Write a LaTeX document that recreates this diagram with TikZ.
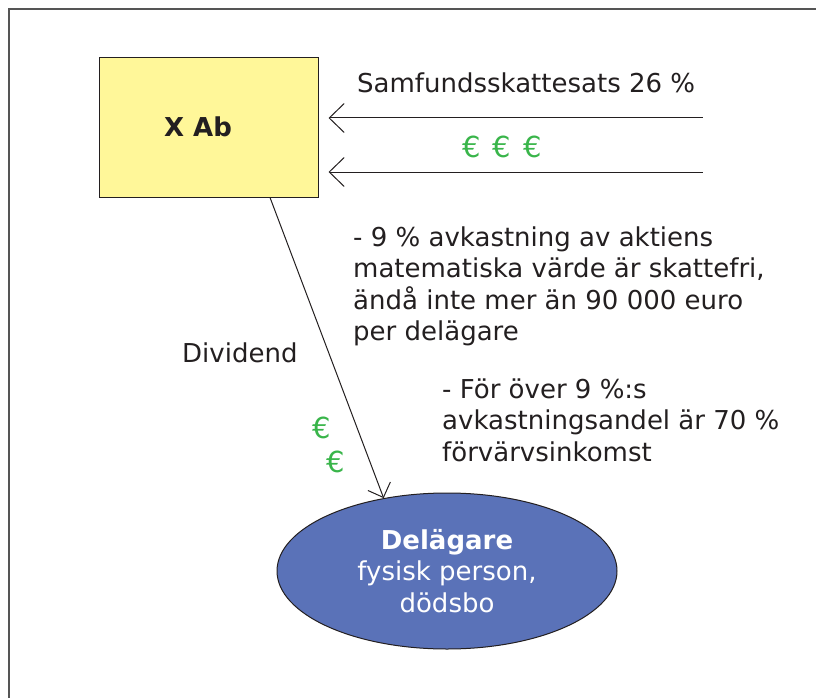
\documentclass[tikz,border=0pt]{standalone}
\usepackage{fontspec}
\setmainfont{DejaVu Sans}
\usetikzlibrary{arrows.meta,shapes.geometric,calc}
\definecolor{boxyellow}{RGB}{255,247,153}
\definecolor{ellblue}{RGB}{90,114,184}
\definecolor{eurogreen}{RGB}{57,181,74}
\definecolor{txt}{RGB}{35,31,32}
\definecolor{framegray}{RGB}{85,85,85}
\begin{document}
\begin{tikzpicture}[x=1pt,y=-1pt,
  lbl/.style={inner sep=0pt, anchor=base west, text=txt, align=left,
    font=\fontsize{26}{31.5}\selectfont},
  euro/.style={inner sep=0pt, text=eurogreen, font=\fontsize{29}{31.5}\selectfont},
  flow/.style={draw=txt, line width=1pt, shorten >=10pt,
    -{Straight Barb[length=15pt,width=29pt,line width=1pt]}},
  divflow/.style={draw=txt, line width=1pt,
    -{Straight Barb[length=12pt,width=24pt,line width=1pt]}},
]
\useasboundingbox (0,0) rectangle (816,698);
\draw[framegray, line width=2pt] (8.5,698) -- (8.5,9.5) -- (816,9.5);

% X Ab box
\node[draw=txt, fill=boxyellow, line width=1pt, inner sep=0pt,
      minimum width=219pt, minimum height=139pt] (box) at (208.5,127.5) {};
\node[inner sep=0pt, anchor=base, text=txt,
      font=\fontsize{26}{31.5}\selectfont\bfseries] (xab) at (198,136) {X Ab};

% incoming arrows
\coordinate (s1) at (702.5,118);
\coordinate (s2) at (702.5,172);
\draw[flow] (s1) -- (s1 -| box.east);
\draw[flow] (s2) -- (s2 -| box.east);
\node[lbl] (tax) at (357,93) {Samfundsskattesats 26 \%};
\node[euro] (eu3) at (502,147) {€\hspace{12pt}€\hspace{12pt}€};

% Delägare ellipse
\node[ellipse, draw=txt, fill=ellblue, line width=1pt, inner sep=0pt,
      minimum width=340pt, minimum height=156pt, text=white, align=center,
      font=\fontsize{26}{31.5}\selectfont] (ell) at (447,571)
      {\textbf{Delägare}\\fysisk person,\\dödsbo};

% dividend arrow
\draw[divflow] ([xshift=61.5pt]box.south) -- (ell.131.5);
\node[lbl] (div) at (182,362) {Dividend};
\node[euro] (eu1) at (322,428) {€};
\node[euro] (eu2) at (336,462) {€};

% explanations
\node[lbl] (rule1) at (353,340.5) {- 9 \% avkastning av aktiens\\matematiska värde är skattefri,\\ändå inte mer än 90 000 euro\\per delägare};
\node[lbl] (rule2) at (442,461) {- För över 9 \%:s\\avkastningsandel är 70 \%\\förvärvsinkomst};
\end{tikzpicture}
\end{document}
